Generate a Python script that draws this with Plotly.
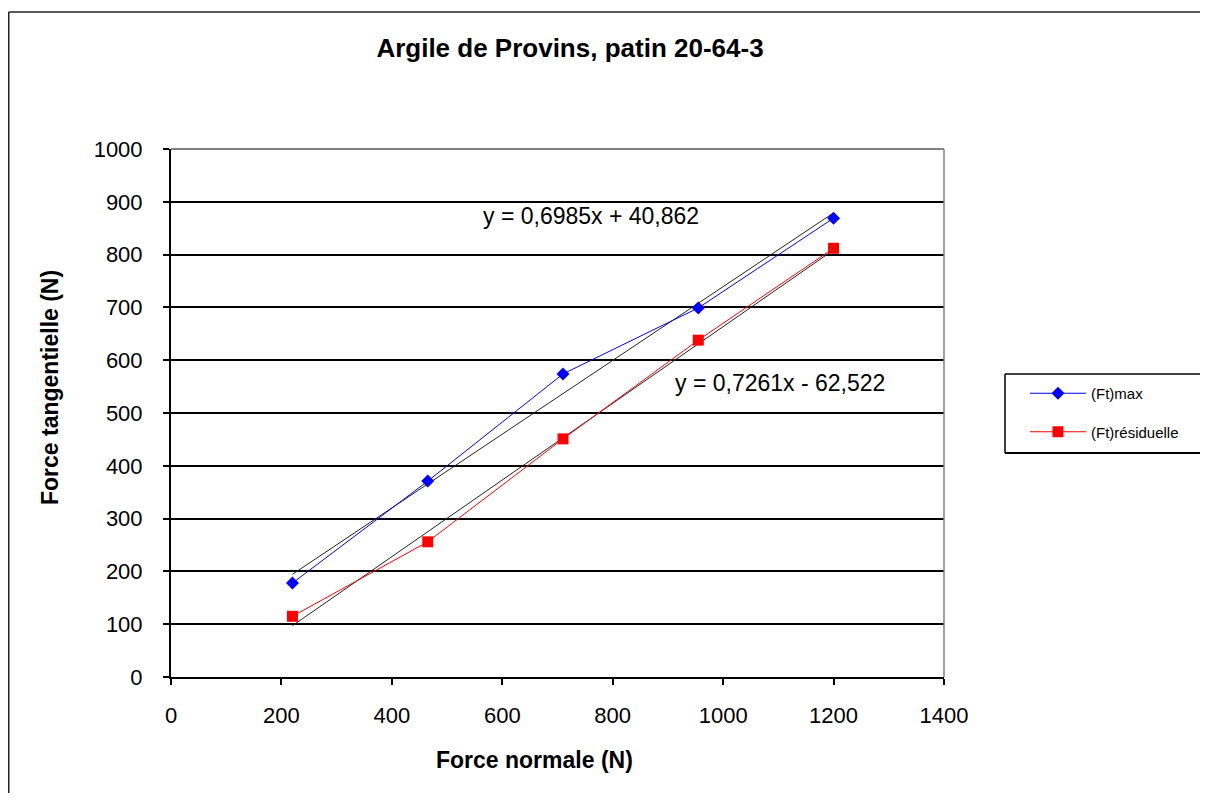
import plotly.graph_objects as go
import numpy as np

# Data
force_normale = [220, 465, 710, 955, 1200]
ft_max = [178, 371, 574, 699, 869]
ft_residuelle = [115, 256, 451, 638, 812]

# Trendline coefficients (from the chart's equations)
fit_max = (0.6985, 40.862)
fit_res = (0.7261, -62.522)
eq_max_text = "y = 0,6985x + 40,862"
eq_res_text = "y = 0,7261x - 62,522"

x_ticks = [0, 200, 400, 600, 800, 1000, 1200, 1400]
y_ticks = [0, 100, 200, 300, 400, 500, 600, 700, 800, 900, 1000]

FONT = "Liberation Sans, Arial, sans-serif"

W, H = 1200, 785
L, T, PW, PH = 163, 141, 773, 528
R = W - L - PW
B = H - T - PH


def px(xf):
    return (xf - L) / PW


def py(yf):
    return (T + PH - yf) / PH


fig = go.Figure()

xs = np.array([min(force_normale), max(force_normale)], dtype=float)
fig.add_trace(go.Scatter(x=xs, y=fit_max[0] * xs + fit_max[1], mode="lines",
                         line=dict(color="#222222", width=1), showlegend=False, hoverinfo="skip"))
fig.add_trace(go.Scatter(x=xs, y=fit_res[0] * xs + fit_res[1], mode="lines",
                         line=dict(color="#222222", width=1), showlegend=False, hoverinfo="skip"))

fig.add_trace(go.Scatter(x=force_normale, y=ft_max, mode="lines+markers", name="(Ft)max",
                         line=dict(color="#0000FF", width=1),
                         marker=dict(symbol="diamond", size=10, color="#0000FF"),
                         legendgroup="a"))
fig.add_trace(go.Scatter(x=force_normale, y=ft_residuelle, mode="lines+markers", name="(Ft)résiduelle",
                         line=dict(color="#FF0000", width=1),
                         marker=dict(symbol="square", size=11, color="#FF0000"),
                         legendgroup="b"))

fig.update_layout(
    width=W, height=H,
    margin=dict(l=L, r=R, t=T, b=B),
    paper_bgcolor="white", plot_bgcolor="white",
    font=dict(family=FONT, color="black"),
    title=dict(text="<b>Argile de Provins, patin 20-64-3</b>", x=562 / W, xanchor="center",
               y=1 - 40 / H, yanchor="middle", font=dict(size=26, family=FONT, color="black")),
    xaxis=dict(range=[0, 1400], tickvals=x_ticks, ticks="outside", ticklen=6, tickwidth=1.5,
               tickcolor="black", showgrid=False, zeroline=False, showline=True, linecolor="black",
               linewidth=2, tickfont=dict(size=22, family=FONT), ticklabelstandoff=12),
    yaxis=dict(range=[0, 1000], tickvals=y_ticks, ticks="outside", ticklen=6, tickwidth=1.5,
               tickcolor="black", showgrid=True, gridcolor="black", gridwidth=1.5, zeroline=False,
               showline=True, linecolor="black", linewidth=2, tickfont=dict(size=22, family=FONT),
               ticklabelstandoff=16),
    legend=dict(x=px(1017), y=py(369), xanchor="left", yanchor="top",
                borderwidth=0, bgcolor="rgba(0,0,0,0)",
                font=dict(size=15, family=FONT), tracegroupgap=16, itemwidth=56),
    showlegend=True,
)


def hline(x0, x1, y, color, width):
    fig.add_shape(type="line", xref="paper", yref="paper", x0=px(x0), x1=px(x1), y0=py(y), y1=py(y),
                  line=dict(color=color, width=width))


def vline(x, y0, y1, color, width):
    fig.add_shape(type="line", xref="paper", yref="paper", x0=px(x), x1=px(x), y0=py(y0), y1=py(y1),
                  line=dict(color=color, width=width))


# legend box (open on the right, as in the cropped original)
hline(997, W + 20, 366, "black", 1.5)
hline(997, W + 20, 445, "black", 2)
vline(997, 366, 445, "black", 1.5)

# axis titles
fig.add_annotation(x=px(526), y=py(752), xref="paper", yref="paper", showarrow=False,
                   xanchor="center", yanchor="middle",
                   text="<b>Force normale (N)</b>", font=dict(size=23, family=FONT, color="black"))
fig.add_annotation(x=px(42), y=py(380), xref="paper", yref="paper", showarrow=False, textangle=-90,
                   xanchor="center", yanchor="middle",
                   text="<b>Force tangentielle (N)</b>", font=dict(size=23, family=FONT, color="black"))

# plot-area border top/right (gray)
hline(L, L + PW, T, "#808080", 2)
vline(L + PW, T, T + PH, "#808080", 1.5)

# outer chart border (top and left only visible)
hline(0.75, W + 20, 4, "#222222", 1.5)
vline(0.75, 4, H + 20, "#222222", 1.5)

fig.add_annotation(x=760, y=873, xref="x", yref="y", text=eq_max_text, showarrow=False,
                   font=dict(size=23, family=FONT, color="black"))
fig.add_annotation(x=1103, y=557, xref="x", yref="y", text=eq_res_text, showarrow=False,
                   font=dict(size=23, family=FONT, color="black"))

fig.write_html("out.html")
